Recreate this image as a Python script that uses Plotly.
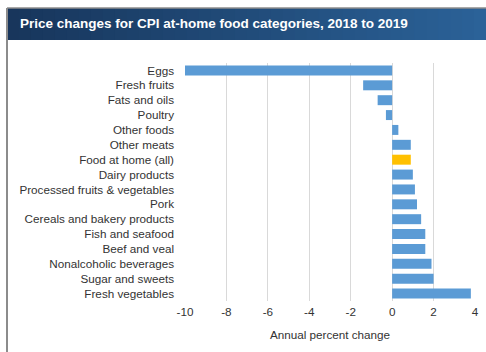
import plotly.graph_objects as go

categories = ["Eggs", "Fresh fruits", "Fats and oils", "Poultry", "Other foods",
              "Other meats", "Food at home (all)", "Dairy products",
              "Processed fruits & vegetables", "Pork", "Cereals and bakery products",
              "Fish and seafood", "Beef and veal", "Nonalcoholic beverages",
              "Sugar and sweets", "Fresh vegetables"]
values = [-10.0, -1.4, -0.7, -0.3, 0.3, 0.9, 0.9, 1.0, 1.1, 1.2, 1.4, 1.6, 1.6, 1.9, 2.0, 3.8]
highlight = "Food at home (all)"
tick_vals = [-10, -8, -6, -4, -2, 0, 2, 4]

colors = ["#FFC000" if c == highlight else "#5B9BD5" for c in categories]

fig = go.Figure(go.Bar(
    x=values, y=categories, orientation="h",
    marker=dict(color=colors, line=dict(width=0)),
    hoverinfo="x+y",
))

W, H = 486, 352
L, R, T, B = 185, 11, 63, 51
pw, ph = W - L - R, H - T - B


def px_x(px):
    return (px - L) / pw


def px_y(py):
    return (H - B - py) / ph


shapes = []
# title bar gradient (pixel coords converted to paper)
n = 40
c0 = (0x18, 0x36, 0x5c)
c1 = (0x2b, 0x62, 0x98)
bx0, bx1 = 7, W
for i in range(n):
    t = i / (n - 1)
    col = "rgb(%d,%d,%d)" % tuple(int(a + (b - a) * t) for a, b in zip(c0, c1))
    xa = bx0 + (bx1 - bx0) * i / n
    xb = bx0 + (bx1 - bx0) * (i + 1) / n + 1
    shapes.append(dict(type="rect", xref="paper", yref="paper",
                       x0=px_x(xa), x1=px_x(xb), y0=px_y(40), y1=px_y(8),
                       fillcolor=col, line=dict(width=0), layer="below"))
# gray frame lines
shapes.append(dict(type="line", xref="paper", yref="paper", x0=px_x(7), x1=px_x(W),
                   y0=px_y(8), y1=px_y(8), line=dict(color="#8c8c8c", width=1.5)))
shapes.append(dict(type="line", xref="paper", yref="paper", x0=px_x(7), x1=px_x(7),
                   y0=px_y(H), y1=px_y(8), line=dict(color="#8c8c8c", width=2)))

fig.update_layout(
    width=W, height=H,
    margin=dict(l=L, r=R, t=T, b=B, autoexpand=False),
    paper_bgcolor="white", plot_bgcolor="white",
    bargap=0.33,
    showlegend=False,
    shapes=shapes,
    font=dict(family="Liberation Sans, Arial, sans-serif", size=11.7, color="#333333"),
    annotations=[dict(
        text="<b>Price changes for CPI at-home food categories, 2018 to 2019</b>",
        xref="paper", yref="paper", x=px_x(18), y=px_y(24),
        xanchor="left", yanchor="middle", showarrow=False,
        font=dict(family="Liberation Sans, Arial, sans-serif", size=13.5, color="white"),
    )],
    xaxis=dict(
        range=[-10, 4], tickvals=tick_vals, ticktext=[str(v) for v in tick_vals],
        showgrid=True, gridcolor="#d9d9d9", gridwidth=1,
        zeroline=True, zerolinecolor="#d9d9d9", zerolinewidth=1,
        showline=False, ticks="", ticklen=0,
        ticklabelstandoff=2,
        tickfont=dict(size=11.7, color="#333333"),
        title=dict(text="Annual percent change", font=dict(size=11.7, color="#333333"),
                   standoff=14),
        automargin=False,
        fixedrange=True,
    ),
    yaxis=dict(
        categoryorder="array", categoryarray=categories, autorange="reversed",
        showgrid=False, showline=False, ticks="", ticklen=0,
        tickfont=dict(size=11.7, color="#333333"),
        ticklabelstandoff=10,
        automargin=False,
        fixedrange=True,
    ),
)

fig.write_html("out.html")
